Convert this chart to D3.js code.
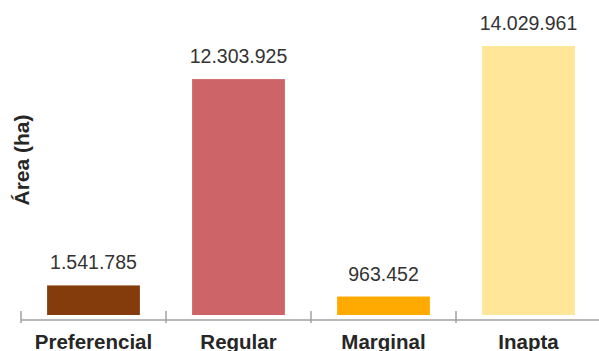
<!DOCTYPE html>
<html>
<head>
<meta charset="utf-8">
<script src="https://cdn.jsdelivr.net/npm/d3@7"></script>
<style>
  html, body { margin: 0; padding: 0; background: #fff; }
  svg { display: block; }
  text { font-family: "Liberation Sans", Arial, sans-serif; }
</style>
</head>
<body>
<svg id="chart" width="599" height="351"></svg>
<script>
// Land suitability classes and their area in hectares
const categories = ["Preferencial", "Regular", "Marginal", "Inapta"];
const areas = [1541785, 12303925, 963452, 14029961];
const valueLabels = ["1.541.785", "12.303.925", "963.452", "14.029.961"];
const barColors = ["#843c0c", "#cd6467", "#ffaa00", "#ffe699"];

const svg = d3.select("#chart");
const baseY = 315;   // bar baseline
const axisY = 320;   // category axis line

const x = d3.scaleBand()
  .domain(categories)
  .range([21, 601])
  .paddingInner(0.36)
  .paddingOuter(0.18);

const y = d3.scaleLinear()
  .domain([0, d3.max(areas)])
  .range([baseY, 46]);

const data = categories.map((c, i) => ({ cat: c, value: areas[i], label: valueLabels[i], color: barColors[i] }));

// bars
svg.append("g").selectAll("rect")
  .data(data)
  .join("rect")
  .attr("x", d => x(d.cat))
  .attr("width", x.bandwidth())
  .attr("y", d => y(d.value))
  .attr("height", d => baseY - y(d.value))
  .attr("fill", d => d.color);

// value labels above bars
svg.append("g").selectAll("text")
  .data(data)
  .join("text")
  .attr("x", d => x(d.cat) + x.bandwidth() / 2)
  .attr("y", d => y(d.value) - 16)
  .attr("text-anchor", "middle")
  .attr("font-size", 19.5)
  .attr("fill", "#333")
  .text(d => d.label);

// category axis: line and boundary ticks between classes
const step = x.step();
const axis = svg.append("g").attr("stroke", "#a0a0a0").attr("stroke-width", 1.5);
axis.append("line")
  .attr("x1", x(categories[0]) - step * x.paddingOuter())
  .attr("x2", 599)
  .attr("y1", axisY).attr("y2", axisY);
axis.selectAll("line.tick")
  .data(categories)
  .join("line")
  .attr("class", "tick")
  .attr("x1", d => x(d) - step * x.paddingInner() / 2)
  .attr("x2", d => x(d) - step * x.paddingInner() / 2)
  .attr("y1", axisY - 9)
  .attr("y2", axisY + 3);

// category labels
svg.append("g").selectAll("text")
  .data(categories)
  .join("text")
  .attr("x", d => x(d) + x.bandwidth() / 2)
  .attr("y", 349)
  .attr("text-anchor", "middle")
  .attr("font-size", 20.5)
  .attr("font-weight", "bold")
  .attr("fill", "#262626")
  .text(d => d);

// y-axis title
svg.append("text")
  .attr("transform", "translate(29,160) rotate(-90)")
  .attr("text-anchor", "middle")
  .attr("font-size", 21)
  .attr("font-weight", "bold")
  .attr("fill", "#262626")
  .text("Área (ha)");
</script>
</body>
</html>
